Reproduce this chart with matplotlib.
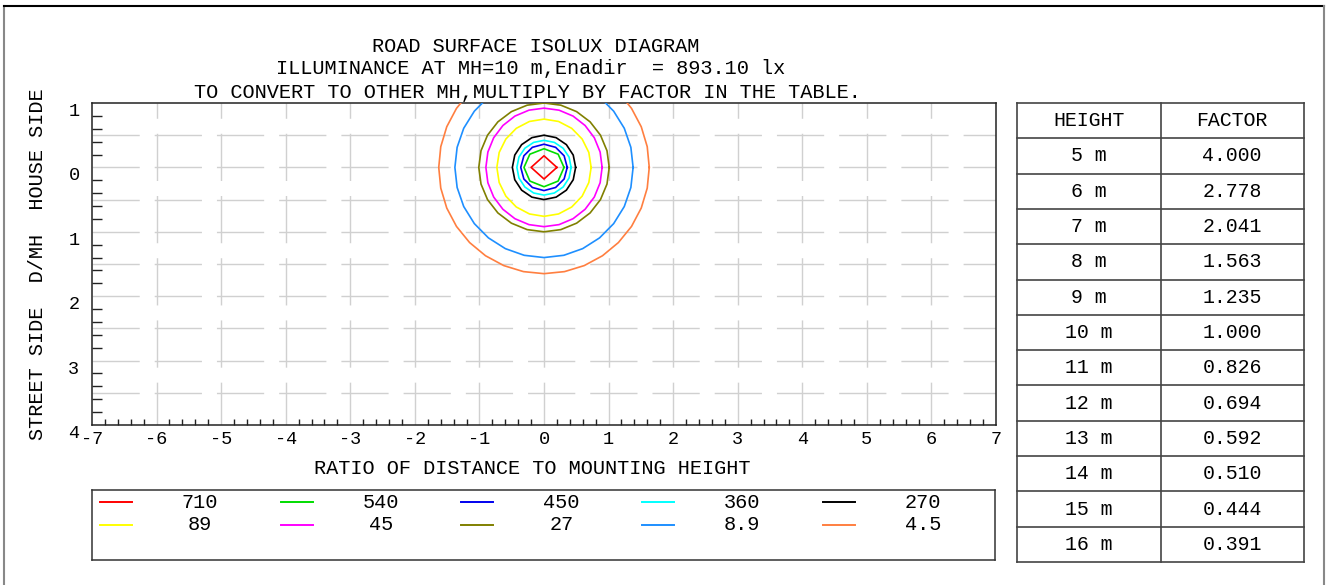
import numpy as np
import matplotlib
matplotlib.use('Agg')
from matplotlib import pyplot as plt
from matplotlib.lines import Line2D

plt.rcParams['font.family'] = ['Liberation Mono', 'DejaVu Sans Mono']

W, H = 1327, 585

# isolux levels (lx) with contour extents in D/MH: x half-width, up (house side), down (street side)
levels = ['710', '540', '450', '360', '270', '89', '45', '27', '8.9', '4.5']
half_width = [0.20, 0.31, 0.36, 0.42, 0.49, 0.73, 0.90, 1.01, 1.38, 1.63]
reach_up = [0.18, 0.29, 0.36, 0.42, 0.50, 0.75, 0.92, 1.00, 1.40, 1.65]
reach_down = [0.18, 0.30, 0.36, 0.43, 0.50, 0.76, 0.92, 1.00, 1.40, 1.65]
colors = ['#ff0000', '#00dd00', '#0000ee', '#00ffff', '#000000',
          '#ffff00', '#ff00ff', '#808000', '#1e8fff', '#ff7f40']
sides = [4, 8, 12, 16, 16, 20, 24, 24, 28, 32]

heights = ['5 m', '6 m', '7 m', '8 m', '9 m', '10 m', '11 m', '12 m', '13 m', '14 m', '15 m', '16 m']
factors = ['4.000', '2.778', '2.041', '1.563', '1.235', '1.000', '0.826', '0.694',
           '0.592', '0.510', '0.444', '0.391']

x_ticks = list(range(-7, 8))
y_ticks = [1, 0, -1, -2, -3, -4]
y_tick_labels = ['1', '0', '1', '2', '3', '4']

FS = 14.6


def fx(x):
    return x / W


def fy(y):
    return 1 - y / H


def rect(x0, y0, x1, y1):
    return [fx(x0), fy(y1), (x1 - x0) / W, (y1 - y0) / H]


fig = plt.figure(figsize=(W / 100, H / 100), dpi=100)

# outer frame
fig.add_artist(Line2D([fx(4), fx(4)], [fy(6), 0], color='#888888', lw=1.5))
fig.add_artist(Line2D([fx(4), fx(1324)], [fy(6), fy(6)], color='#000000', lw=1.5))
fig.add_artist(Line2D([fx(1324), fx(1324)], [fy(6), 0], color='#888888', lw=1.5))

# titles
fig.text(fx(536), fy(47), 'ROAD SURFACE ISOLUX DIAGRAM', ha='center', va='center', fontsize=FS)
fig.text(fx(531), fy(69), 'ILLUMINANCE AT MH=10 m,Enadir  = 893.10 lx', ha='center', va='center', fontsize=FS)
fig.text(fx(527), fy(92), 'TO CONVERT TO OTHER MH,MULTIPLY BY FACTOR IN THE TABLE.',
         ha='center', va='center', fontsize=FS)

# main isolux axes
ax = fig.add_axes(rect(92, 103, 996, 425))
ax.set_xlim(-7, 7)
ax.set_ylim(-4, 1)

for y in np.arange(-3.5, 1.0, 0.5):
    ax.plot([-7, 7], [y, y], color='#d0d0d0', lw=1, ls=(0, (34, 10.8)), zorder=0)
for x in range(-6, 7):
    ax.plot([x, x], [1, -4], color='#d0d0d0', lw=1, ls=(23, (34, 10.8)), zorder=0)

for rx, ru, rd, c, n in zip(half_width, reach_up, reach_down, colors, sides):
    t = np.linspace(0, 2 * np.pi, n + 1)
    s = np.sin(t)
    ax.plot(rx * np.cos(t), np.where(s > 0, ru, rd) * s, color=c, lw=1.2, zorder=3)

ax.set_xticks(x_ticks)
ax.set_xticklabels([str(v) for v in x_ticks])
ax.set_yticks(y_ticks)
ax.set_yticklabels(y_tick_labels)
for lbl in ax.get_yticklabels():
    lbl.set_va('top')
minor = np.round(np.arange(-7, 7.01, 0.2), 1)
ax.set_xticks([v for v in minor if abs(v - round(v)) > 1e-6], minor=True)
minor_y = np.round(np.arange(-4, 1.01, 0.2), 1)
ax.set_yticks([v for v in minor_y if abs(v - round(v)) > 1e-6], minor=True)
ax.tick_params(which='major', length=0, labelsize=13.4)
ax.tick_params(axis='x', which='major', pad=4)
ax.tick_params(axis='y', which='major', pad=9)
ax.tick_params(axis='x', which='minor', direction='in', length=4, width=1, color='#222222')
ax.tick_params(axis='y', which='minor', direction='in', length=7.5, width=1, color='#222222')
for sp in ax.spines.values():
    sp.set_color('#222222')
    sp.set_linewidth(1.1)

fig.text(fx(38), fy(264), 'STREET SIDE  D/MH  HOUSE SIDE', rotation=90,
         ha='center', va='center', fontsize=FS)
fig.text(fx(532), fy(469), 'RATIO OF DISTANCE TO MOUNTING HEIGHT', ha='center', va='center', fontsize=FS)

# legend box
lax = fig.add_axes(rect(92, 490, 995, 560))
lax.set_xlim(92, 995)
lax.set_ylim(560, 490)
lax.set_xticks([])
lax.set_yticks([])
for sp in lax.spines.values():
    sp.set_color('#333333')
    sp.set_linewidth(1.1)
for i, (lev, c) in enumerate(zip(levels, colors)):
    row, col = divmod(i, 5)
    ly = 502 + row * 23
    lx = 100 + col * 180.7
    lax.plot([lx, lx + 32], [ly, ly], color=c, lw=1.4)
    lax.text(lx + 100, ly, lev, ha='center', va='center', fontsize=FS)

# factor table
tax = fig.add_axes(rect(1017, 103, 1304, 562))
tax.set_xlim(0, 287)
tax.set_ylim(len(heights) + 1, 0)
tax.axis('off')
nrows = len(heights) + 1
for r in range(nrows + 1):
    tax.plot([0, 287], [r, r], color='#444444', lw=1.2, clip_on=False)
for cx in (0, 144, 287):
    tax.plot([cx, cx], [0, nrows], color='#444444', lw=1.2, clip_on=False)
tax.text(72, 0.5, 'HEIGHT', ha='center', va='center', fontsize=14.3)
tax.text(215, 0.5, 'FACTOR', ha='center', va='center', fontsize=14.3)
for r, (h, f) in enumerate(zip(heights, factors), start=1):
    tax.text(72, r + 0.5, h, ha='center', va='center', fontsize=14.3)
    tax.text(215, r + 0.5, f, ha='center', va='center', fontsize=14.3)

fig.savefig('out.png', dpi=100)
